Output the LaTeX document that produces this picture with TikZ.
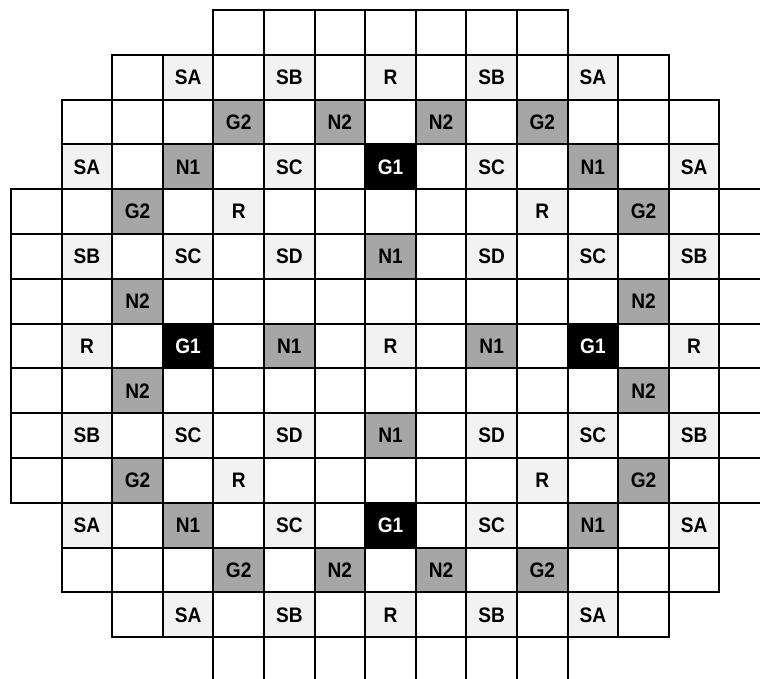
\documentclass[tikz,border=0pt]{standalone}
\usepackage{fontspec}
\setmainfont{Liberation Sans}
\newfontfamily\cellfont[FakeStretch=0.91]{Liberation Sans}
\definecolor{ltgray}{HTML}{F2F2F2}
\definecolor{mdgray}{HTML}{A6A6A6}
\begin{document}
\begin{tikzpicture}[x=1pt,y=1pt,
  cell/.style={draw=black,line width=2pt,fill=white,minimum width=50.6pt,minimum height=44.8pt,inner sep=0pt,outer sep=0pt,font=\cellfont\fontsize{21}{25}\selectfont\bfseries},
  ltcell/.style={fill=ltgray},
  mdcell/.style={fill=mdgray},
  dkcell/.style={fill=black,text=white}]
\useasboundingbox (0,0) rectangle (760,-679);
\clip (0,0) rectangle (760,-679);
\def\W{50.6}\def\H{44.8}
\foreach \r/\a/\b in {0/4/10,1/2/12,2/1/13,3/1/13,4/0/14,5/0/14,6/0/14,7/0/14,8/0/14,9/0/14,10/0/14,11/1/13,12/1/13,13/2/12,14/4/10}
  \foreach \c in {\a,...,\b}
    \node[cell] (cell-\r-\c) at ({11+\W*(\c+0.5)},{-(10+\H*(\r+0.5))}) {};
\foreach \r/\c/\t/\s in {
  1/3/SA/ltcell,1/5/SB/ltcell,1/7/R/ltcell,1/9/SB/ltcell,1/11/SA/ltcell,
  2/4/G2/mdcell,2/6/N2/mdcell,2/8/N2/mdcell,2/10/G2/mdcell,
  3/1/SA/ltcell,3/3/N1/mdcell,3/5/SC/ltcell,3/7/G1/dkcell,3/9/SC/ltcell,3/11/N1/mdcell,3/13/SA/ltcell,
  4/2/G2/mdcell,4/4/R/ltcell,4/10/R/ltcell,4/12/G2/mdcell,
  5/1/SB/ltcell,5/3/SC/ltcell,5/5/SD/ltcell,5/7/N1/mdcell,5/9/SD/ltcell,5/11/SC/ltcell,5/13/SB/ltcell,
  6/2/N2/mdcell,6/12/N2/mdcell,
  7/1/R/ltcell,7/3/G1/dkcell,7/5/N1/mdcell,7/7/R/ltcell,7/9/N1/mdcell,7/11/G1/dkcell,7/13/R/ltcell,
  8/2/N2/mdcell,8/12/N2/mdcell,
  9/1/SB/ltcell,9/3/SC/ltcell,9/5/SD/ltcell,9/7/N1/mdcell,9/9/SD/ltcell,9/11/SC/ltcell,9/13/SB/ltcell,
  10/2/G2/mdcell,10/4/R/ltcell,10/10/R/ltcell,10/12/G2/mdcell,
  11/1/SA/ltcell,11/3/N1/mdcell,11/5/SC/ltcell,11/7/G1/dkcell,11/9/SC/ltcell,11/11/N1/mdcell,11/13/SA/ltcell,
  12/4/G2/mdcell,12/6/N2/mdcell,12/8/N2/mdcell,12/10/G2/mdcell,
  13/3/SA/ltcell,13/5/SB/ltcell,13/7/R/ltcell,13/9/SB/ltcell,13/11/SA/ltcell}
  \node[cell,\s] (lab-\r-\c) at (cell-\r-\c) {\t};
\end{tikzpicture}
\end{document}
